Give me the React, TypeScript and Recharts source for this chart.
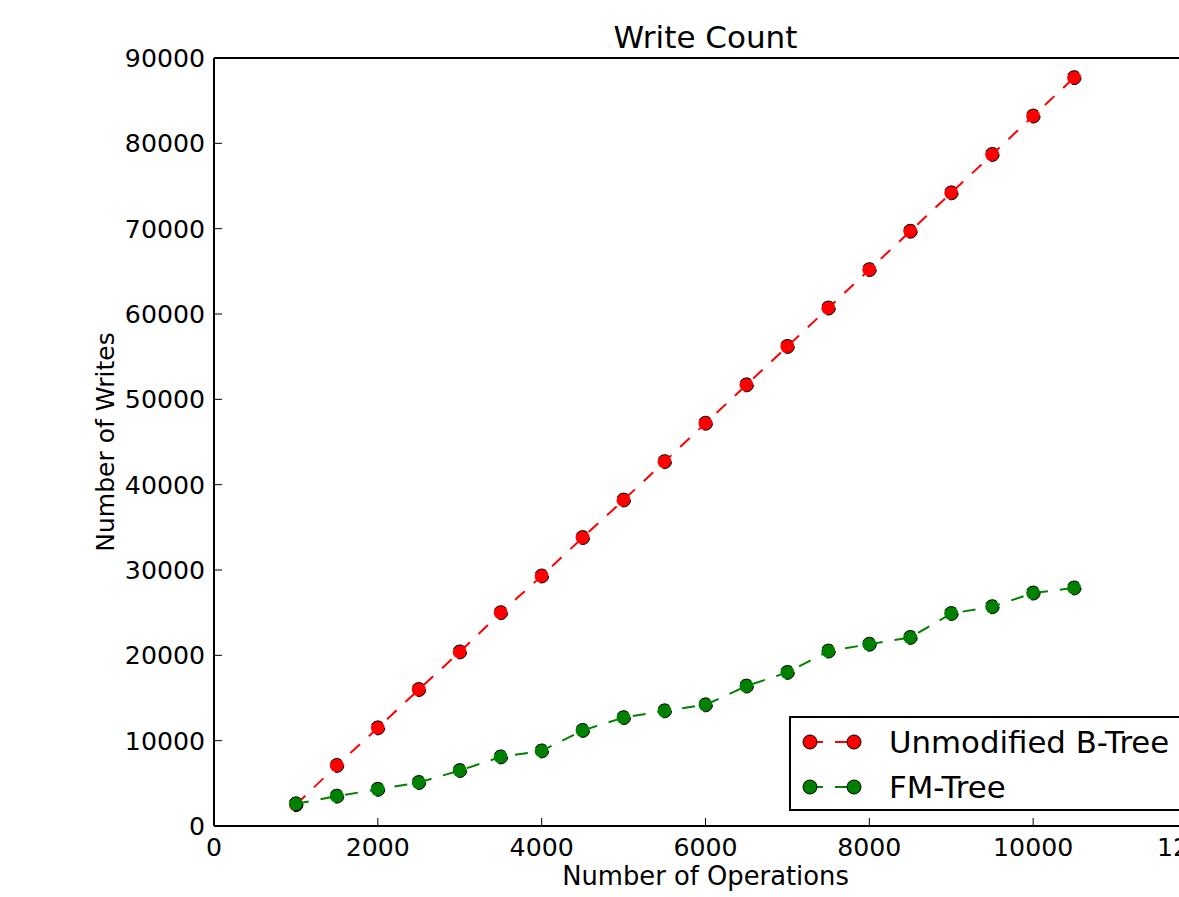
import React from 'react';
import { LineChart, Line, XAxis, YAxis, Legend } from 'recharts';

const operations = [
  1000, 1500, 2000, 2500, 3000, 3500, 4000, 4500, 5000, 5500,
  6000, 6500, 7000, 7500, 8000, 8500, 9000, 9500, 10000, 10500,
];
const btreeWrites = [
  2500, 7100, 11500, 16000, 20400, 25000, 29300, 33800, 38200, 42700,
  47200, 51700, 56200, 60700, 65200, 69700, 74200, 78700, 83200, 87700,
];
const fmTreeWrites = [
  2600, 3500, 4300, 5100, 6500, 8100, 8800, 11200, 12700, 13500,
  14200, 16400, 18000, 20500, 21300, 22100, 24900, 25700, 27300, 27900,
];
const xTicks = [0, 2000, 4000, 6000, 8000, 10000, 12000];
const yTicks = [0, 10000, 20000, 30000, 40000, 50000, 60000, 70000, 80000, 90000];

const series = [
  { key: 'btree', name: 'Unmodified B-Tree', color: '#ff0000' },
  { key: 'fm', name: 'FM-Tree', color: '#008000' },
];

const data = operations.map((ops, i) => ({
  ops,
  btree: btreeWrites[i],
  fm: fmTreeWrites[i],
}));

const FONT = 'DejaVu Sans';
const tickStyle = { fill: '#000', fontSize: 25.2, fontFamily: FONT };
const axisLine = { stroke: '#000', strokeWidth: 2 };
const tickLine = { stroke: '#000', strokeWidth: 1 };
const DASH = '13 12';

const renderLegend = () => (
  <div
    style={{
      position: 'relative',
      boxSizing: 'border-box',
      width: 420,
      height: 95,
      border: '2px solid #000',
      background: '#fff',
    }}
  >
    {series.map((s, i) => (
      <div
        key={s.key}
        style={{ position: 'absolute', left: 0, top: 9 + i * 45, height: 30, width: 400 }}
      >
        <svg width={64} height={30} style={{ position: 'absolute', left: 9, top: 0 }}>
          <line x1={10} y1={15} x2={54} y2={15} stroke={s.color} strokeWidth={2} strokeDasharray={DASH} />
          <circle cx={10} cy={15} r={7} fill={s.color} stroke="#000" strokeWidth={1} />
          <circle cx={54} cy={15} r={7} fill={s.color} stroke="#000" strokeWidth={1} />
        </svg>
        <span
          style={{
            position: 'absolute',
            left: 98,
            top: 0,
            lineHeight: '30px',
            fontSize: 30.8,
            fontFamily: FONT,
            color: '#000',
            whiteSpace: 'nowrap',
          }}
        >
          {s.name}
        </span>
      </div>
    ))}
  </div>
);

export default function App() {
  return (
    <div style={{ position: 'absolute', left: 0, top: 0, width: 1179, height: 897, overflow: 'hidden', background: '#fff' }}>
      <LineChart width={1230} height={897} data={data} margin={{ top: 57, right: 32, left: 0, bottom: 0 }}>
        <XAxis
          dataKey="ops"
          type="number"
          domain={[0, 12000]}
          ticks={xTicks}
          interval={0}
          allowDataOverflow
          height={71}
          tickSize={-8}
          tickMargin={20}
          axisLine={axisLine}
          tickLine={tickLine}
          tick={tickStyle}
          label={{ value: 'Number of Operations', position: 'insideBottom', offset: 12, fill: '#000', fontSize: 25.8, fontFamily: FONT }}
        />
        <XAxis
          xAxisId="top"
          orientation="top"
          type="number"
          domain={[0, 12000]}
          ticks={xTicks}
          interval={0}
          allowDataOverflow
          height={1}
          tickSize={-8}
          axisLine={axisLine}
          tickLine={tickLine}
          tick={false}
          label={{ value: 'Write Count', position: 'top', offset: 9, fill: '#000', fontSize: 31, fontFamily: FONT }}
        />
        <YAxis
          type="number"
          domain={[0, 90000]}
          ticks={yTicks}
          interval={0}
          allowDataOverflow
          width={214}
          tickSize={-8}
          tickMargin={17}
          axisLine={axisLine}
          tickLine={tickLine}
          tick={tickStyle}
          label={{ value: 'Number of Writes', angle: -90, position: 'center', dx: -2, fill: '#000', fontSize: 25, fontFamily: FONT }}
        />
        <YAxis
          yAxisId="right"
          orientation="right"
          type="number"
          domain={[0, 90000]}
          ticks={yTicks}
          interval={0}
          allowDataOverflow
          width={1}
          tickSize={-8}
          axisLine={axisLine}
          tickLine={tickLine}
          tick={false}
        />
        <Legend
          layout="horizontal"
          verticalAlign="middle"
          align="center"
          content={renderLegend}
          wrapperStyle={{ position: 'absolute', left: 789, top: 716, width: 420, height: 95 }}
        />
        {series.map((s) => (
          <Line
            key={s.key}
            dataKey={s.key}
            name={s.name}
            type="linear"
            stroke={s.color}
            strokeWidth={2}
            strokeDasharray={DASH}
            dot={{ r: 7, fill: s.color, stroke: '#000', strokeWidth: 1 }}
            activeDot={false}
            isAnimationActive={false}
          />
        ))}
      </LineChart>
    </div>
  );
}
